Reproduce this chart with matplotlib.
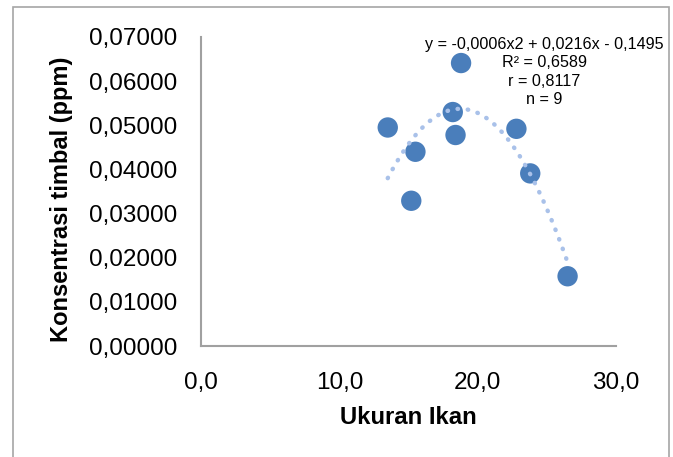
import numpy as np
import matplotlib.pyplot as plt
from matplotlib.patches import Rectangle

plt.rcParams['font.family'] = ['Liberation Sans', 'DejaVu Sans']

# data
ukuran = [13.5, 15.5, 15.2, 18.2, 18.4, 22.8, 23.8, 26.5, 18.8]
timbal = [0.0495, 0.0440, 0.0329, 0.0530, 0.0478, 0.0492, 0.0391, 0.0158, 0.0641]

x_ticks = [0, 10, 20, 30]
x_labels = ["0,0", "10,0", "20,0", "30,0"]
y_ticks = [0, 0.01, 0.02, 0.03, 0.04, 0.05, 0.06, 0.07]
y_labels = ["0,00000", "0,01000", "0,02000", "0,03000", "0,04000",
            "0,05000", "0,06000", "0,07000"]

stats = ["y = -0,0006x2 + 0,0216x - 0,1495", "R² = 0,6589", "r = 0,8117", "n = 9"]

W, H = 673, 457
fig = plt.figure(figsize=(W / 100, H / 100), dpi=100)
ax = fig.add_axes([201 / W, 1 - 346 / H, (616 - 201) / W, (346 - 37) / H])

# outer frame
fig.patches.append(Rectangle((13 / W, -0.05), (669 - 13) / W, 1.05 - 7 / H,
                             transform=fig.transFigure, fill=False,
                             edgecolor='#a6a6a6', linewidth=1.2))

# trendline (poly 2)
coef = np.polyfit(ukuran, timbal, 2)
xs = np.linspace(min(ukuran), max(ukuran), 200)
ax.plot(xs, np.polyval(coef, xs), linestyle=(0, (0.1, 2.2)), dash_capstyle='round',
        color='#a9c1e9', linewidth=3.2, zorder=3)

ax.scatter(ukuran, timbal, s=215, color='#4a7ebb', edgecolors='none', zorder=2)

ax.set_xlim(0, 30)
ax.set_ylim(0, 0.07)
ax.set_xticks(x_ticks)
ax.set_xticklabels(x_labels)
ax.set_yticks(y_ticks)
ax.set_yticklabels(y_labels)
ax.tick_params(length=0, labelsize=17.5)
ax.tick_params(axis='y', pad=17)
ax.tick_params(axis='x', pad=19)

for s in ['top', 'right']:
    ax.spines[s].set_visible(False)
for s in ['left', 'bottom']:
    ax.spines[s].set_color('#a0a0a0')
    ax.spines[s].set_linewidth(1.5)

ax.set_xlabel("Ukuran Ikan", fontsize=17.2, fontweight='bold', labelpad=8)
ax.set_ylabel("Konsentrasi timbal (ppm)", fontsize=17, fontweight='bold', labelpad=8)
ax.yaxis.set_label_coords(-0.308, 0.475)

fig.text(544 / W, 1 - 72 / H, "\n".join(stats), ha='center', va='center',
         fontsize=11.6, linespacing=1.28)

fig.savefig("out.png", dpi=100)
